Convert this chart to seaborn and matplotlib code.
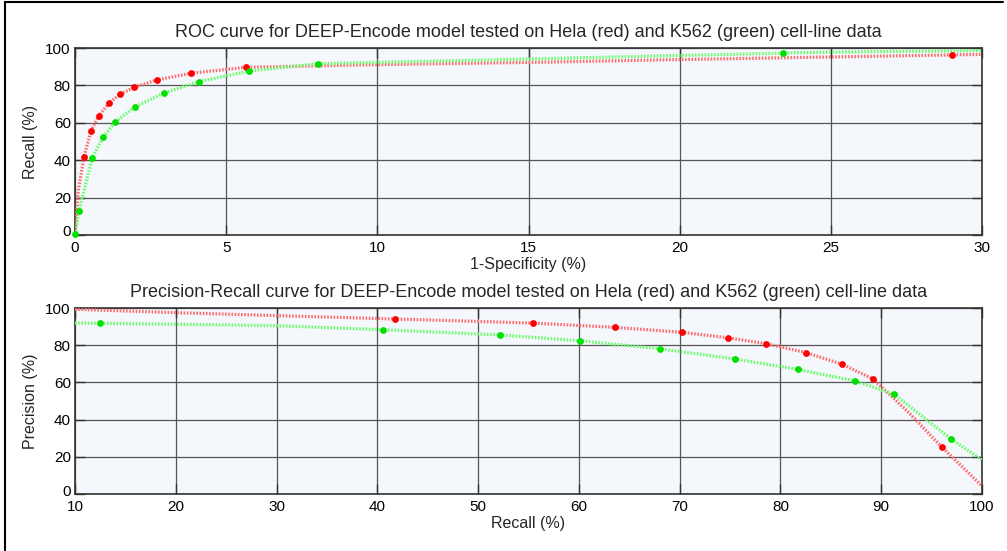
import matplotlib
matplotlib.use("Agg")
import matplotlib.pyplot as plt
import matplotlib.transforms as mtransforms
import seaborn as sns
import pandas as pd
from matplotlib.lines import Line2D

sns.set_style("ticks")
plt.rcParams['font.family'] = ['Liberation Sans', 'DejaVu Sans']

# ---- ROC data (1-Specificity %, Recall %) ----
roc_hela_line_x = [0, 0.11, 0.30, 0.53, 0.79, 1.13, 1.49, 1.95, 2.71, 3.84, 5.65, 10, 15, 20, 25, 29.0, 30]
roc_hela_line_y = [0, 24, 41.9, 55.8, 63.8, 70.7, 75.2, 79.0, 82.9, 86.5, 89.7, 91.1, 92.3, 93.8, 95.2, 96.3, 96.6]
roc_hela_mark_x = [0.30, 0.53, 0.79, 1.13, 1.49, 1.95, 2.71, 3.84, 5.65, 29.0]
roc_hela_mark_y = [41.9, 55.8, 63.8, 70.7, 75.2, 79.0, 82.9, 86.5, 89.7, 96.3]

roc_k562_line_x = [0, 0.13, 0.57, 0.94, 1.33, 1.97, 2.94, 4.10, 5.77, 8.05, 10, 15, 20, 23.43, 25, 30]
roc_k562_line_y = [0.5, 12.8, 41.2, 52.6, 60.4, 68.4, 75.9, 82.0, 87.7, 91.6, 92.3, 94.1, 96.0, 97.3, 97.8, 98.6]
roc_k562_mark_x = [0, 0.13, 0.57, 0.94, 1.33, 1.97, 2.94, 4.10, 5.77, 8.05, 23.43]
roc_k562_mark_y = [0.5, 12.8, 41.2, 52.6, 60.4, 68.4, 75.9, 82.0, 87.7, 91.6, 97.3]

# ---- Precision-Recall data (Recall %, Precision %) ----
pr_hela_line_x = [10, 20, 30, 41.75, 55.4, 63.6, 70.25, 74.8, 78.6, 82.55, 86.06, 89.2, 92.8, 96.0, 100]
pr_hela_line_y = [99.3, 97.5, 95.9, 94.1, 91.9, 89.6, 86.9, 84.0, 80.8, 76.0, 69.9, 61.8, 43.4, 25.3, 4.3]
pr_hela_mark_x = [41.75, 55.4, 63.6, 70.25, 74.8, 78.6, 82.55, 86.06, 89.2, 96.0]
pr_hela_mark_y = [94.1, 91.9, 89.6, 86.9, 84.0, 80.8, 76.0, 69.9, 61.8, 25.3]

pr_k562_line_x = [10, 12.48, 30, 40.6, 52.2, 60.1, 68.0, 75.5, 81.7, 87.4, 91.3, 96.9, 100]
pr_k562_line_y = [91.9, 91.8, 90.5, 88.3, 85.5, 82.4, 78.1, 72.6, 67.0, 60.8, 53.6, 29.7, 18.3]
pr_k562_mark_x = [12.48, 40.6, 52.2, 60.1, 68.0, 75.5, 81.7, 87.4, 91.3, 96.9]
pr_k562_mark_y = [91.8, 88.3, 85.5, 82.4, 78.1, 72.6, 67.0, 60.8, 53.6, 29.7]

roc_title = "ROC curve for DEEP-Encode model tested on Hela (red) and K562 (green) cell-line data"
pr_title = "Precision-Recall curve for DEEP-Encode model tested on Hela (red) and K562 (green) cell-line data"

RED_LINE, RED_MARK = "#ff6a6a", "#ff0000"
GRN_LINE, GRN_MARK = "#66ff66", "#00e000"

fig = plt.figure(figsize=(10.07, 5.51), dpi=100)
ax1 = fig.add_axes([75/1007, 1-235/551, 907/1007, 187/551])
ax2 = fig.add_axes([75/1007, 1-494/551, 907/1007, 186/551])

def draw(ax, lx1, ly1, mx1, my1, lx2, ly2, mx2, my2):
    ls = (0, (0.5, 0.5))
    sns.lineplot(x=lx1, y=ly1, ax=ax, sort=False, color=RED_LINE, lw=2.3,
                 linestyle=ls, zorder=3, estimator=None)
    sns.lineplot(x=lx2, y=ly2, ax=ax, sort=False, color=GRN_LINE, lw=2.3,
                 linestyle=ls, zorder=3, estimator=None)
    sns.scatterplot(x=mx1, y=my1, ax=ax, color=RED_MARK, s=24, edgecolor=RED_MARK,
                    linewidth=0, zorder=4, clip_on=False)
    sns.scatterplot(x=mx2, y=my2, ax=ax, color=GRN_MARK, s=24, edgecolor=GRN_MARK,
                    linewidth=0, zorder=4, clip_on=False)

draw(ax1, roc_hela_line_x, roc_hela_line_y, roc_hela_mark_x, roc_hela_mark_y,
     roc_k562_line_x, roc_k562_line_y, roc_k562_mark_x, roc_k562_mark_y)
draw(ax2, pr_hela_line_x, pr_hela_line_y, pr_hela_mark_x, pr_hela_mark_y,
     pr_k562_line_x, pr_k562_line_y, pr_k562_mark_x, pr_k562_mark_y)

for ax, xlim, xt, xl, yl, title in [
    (ax1, (0, 30), range(0, 31, 5), "1-Specificity (%)", "Recall (%)", roc_title),
    (ax2, (10, 100), range(10, 101, 10), "Recall (%)", "Precision (%)", pr_title),
]:
    ax.set_facecolor("#f4f7fc")
    ax.set_xlim(*xlim)
    ax.set_ylim(0, 100)
    ax.set_xticks(list(xt))
    ax.set_yticks(range(0, 101, 20))
    ax.grid(True, color="#555555", lw=0.9)
    ax.set_axisbelow(True)
    ax.tick_params(axis="both", direction="in", length=7, width=1, top=True, right=True,
                   labelsize=11, colors="#333333", labelcolor="black")
    ax.tick_params(axis="x", pad=4)
    ax.tick_params(axis="y", pad=3)
    for s in ax.spines.values():
        s.set_color("#333333")
        s.set_linewidth(1.2)
        s.set_visible(True)
    ax.set_xlabel(xl, fontsize=11.5, labelpad=2)
    ax.set_ylabel(yl, fontsize=11.5, labelpad=5)
    ax.set_title(title, fontsize=13, pad=8)

# lift the bottom "0" y tick label slightly, as in the reference
fig.canvas.draw()
offset = mtransforms.ScaledTranslation(0, 4/100, fig.dpi_scale_trans)
for ax in (ax1, ax2):
    lbl = ax.get_yticklabels()[0]
    lbl.set_transform(lbl.get_transform() + offset)

# figure frame lines (left and top)
fig.add_artist(Line2D([5/1007, 5/1007], [0, 1-2/551], transform=fig.transFigure, color="black", lw=1.5))
fig.add_artist(Line2D([5/1007, 1003/1007], [1-2/551, 1-2/551], transform=fig.transFigure, color="black", lw=1.5))

fig.savefig("out.png", dpi=100)
